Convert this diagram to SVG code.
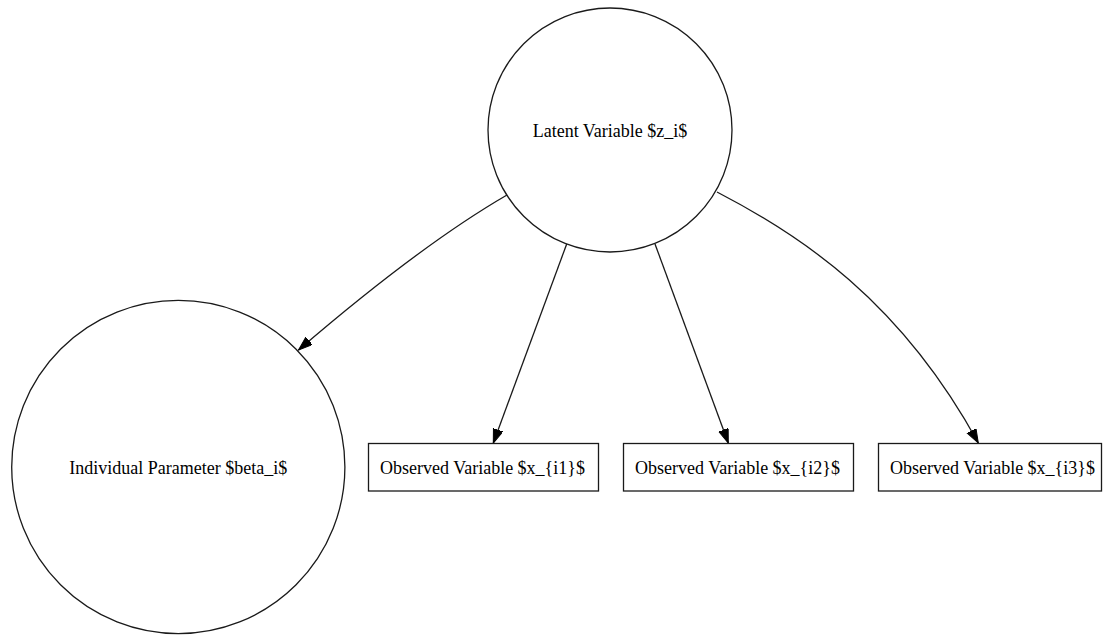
<svg xmlns="http://www.w3.org/2000/svg" width="1103" height="635" viewBox="0 0 1103 635">
  <style>
    .node { fill: #ffffff; stroke: #1a1a1a; stroke-width: 1.3; }
    .lbl { font-family: "Liberation Serif", "Times New Roman", serif; font-size: 18px; fill: #000000; }
    .edge { fill: none; stroke: #1a1a1a; stroke-width: 1.3; marker-end: url(#arrow); }
  </style>
  <defs>
    <marker id="arrow" markerUnits="userSpaceOnUse" markerWidth="16" markerHeight="12" refX="14" refY="5" orient="auto">
      <path d="M0,0 L14,5 L0,10 Z" fill="#000000" stroke="#000000" stroke-width="1"/>
    </marker>
  </defs>
  <rect x="0" y="0" width="1103" height="635" fill="#ffffff"/>

  <g id="edges">
    <path class="edge" d="M507,195 C450,228 380,280 298.5,350"/>
    <path class="edge" d="M566.7,244 L493.3,443"/>
    <path class="edge" d="M655,244 L728.3,443"/>
    <path class="edge" d="M717,192 C800,235 900,300 978.3,443"/>
  </g>

  <g id="latent">
    <circle class="node" cx="610" cy="130" r="122"/>
    <text class="lbl" x="610" y="136.5" text-anchor="middle">Latent Variable $z_i$</text>
  </g>

  <g id="beta">
    <circle class="node" cx="178.3" cy="467" r="166.6"/>
    <text class="lbl" x="178.3" y="474" text-anchor="middle">Individual Parameter $beta_i$</text>
  </g>

  <g id="x1">
    <rect class="node" x="368.5" y="443.5" width="230" height="47.5"/>
    <text class="lbl" x="380" y="474">Observed Variable $x_{i1}$</text>
  </g>

  <g id="x2">
    <rect class="node" x="623.5" y="443.5" width="230" height="47.5"/>
    <text class="lbl" x="635" y="474">Observed Variable $x_{i2}$</text>
  </g>

  <g id="x3">
    <rect class="node" x="878.5" y="443.5" width="223" height="47.5"/>
    <text class="lbl" x="890" y="474">Observed Variable $x_{i3}$</text>
  </g>
</svg>
